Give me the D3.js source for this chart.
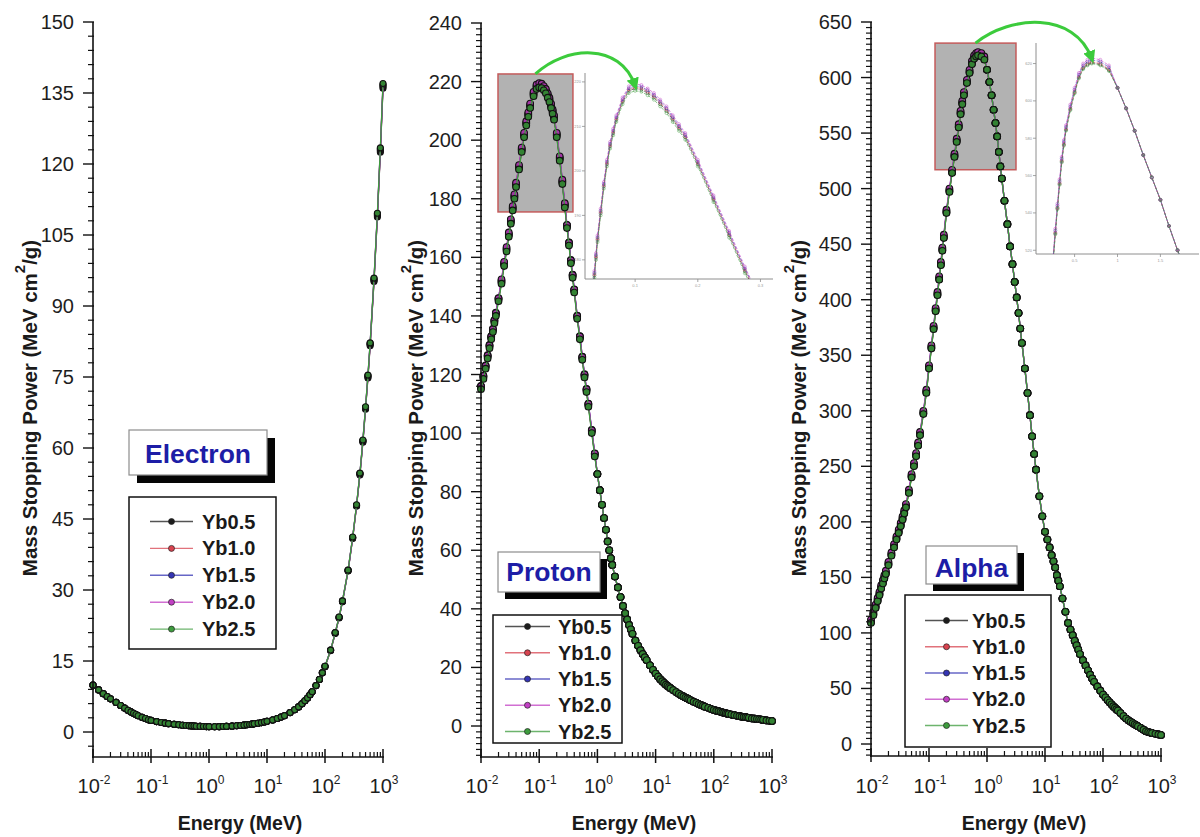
<!DOCTYPE html>
<html>
<head>
<meta charset="utf-8">
<script src="https://cdn.jsdelivr.net/npm/d3@7"></script>
<style>
  body { margin: 0; background: #fff; }
  svg { display: block; font-family: "Liberation Sans", Arial, sans-serif; }
</style>
</head>
<body>
<svg id="chart" width="1200" height="837"></svg>
<script>
// energy grid for the electron panel (MeV)
const electronEnergies = [
  0.01, 0.0125, 0.015, 0.0175, 0.02, 0.025, 0.03, 0.035, 0.04, 0.045, 0.05, 0.055, 0.06, 0.07, 0.08, 0.09,
  0.1, 0.125, 0.15, 0.175, 0.2, 0.25, 0.3, 0.35, 0.4, 0.45, 0.5, 0.55, 0.6, 0.7, 0.8, 0.9,
  1, 1.25, 1.5, 1.75, 2, 2.5, 3, 3.5, 4, 4.5, 5, 5.5, 6, 7, 8, 9,
  10, 12.5, 15, 17.5, 20, 25, 30, 35, 40, 45, 50, 55, 60, 70, 80, 90,
  100, 125, 150, 175, 200, 250, 300, 350, 400, 450, 500, 550, 600, 700, 800, 900, 1000
];

// energy grid for proton and alpha panels (MeV)
const ionEnergies = [
  0.01, 0.011, 0.012, 0.013, 0.014, 0.015, 0.016, 0.017, 0.018, 0.02, 0.0225, 0.025, 0.0275, 0.03, 0.0325, 0.035, 0.0375, 0.04, 0.045, 0.05, 0.055, 0.06, 0.065, 0.07, 0.08, 0.09,
  0.1, 0.11, 0.12, 0.13, 0.14, 0.15, 0.16, 0.17, 0.18, 0.2, 0.225, 0.25, 0.275, 0.3, 0.325, 0.35, 0.375, 0.4, 0.45, 0.5, 0.55, 0.6, 0.65, 0.7, 0.8, 0.9,
  1, 1.1, 1.2, 1.3, 1.4, 1.5, 1.6, 1.7, 1.8, 2, 2.25, 2.5, 2.75, 3, 3.25, 3.5, 3.75, 4, 4.5, 5, 5.5, 6, 6.5, 7, 8, 9,
  10, 11, 12, 13, 14, 15, 16, 17, 18, 20, 22.5, 25, 27.5, 30, 32.5, 35, 37.5, 40, 45, 50, 55, 60, 65, 70, 80, 90,
  100, 110, 120, 130, 140, 150, 160, 170, 180, 200, 225, 250, 275, 300, 325, 350, 375, 400, 450, 500, 550, 600, 650, 700, 800, 900,
  1000
];

const seriesNames = ['Yb0.5', 'Yb1.0', 'Yb1.5', 'Yb2.0', 'Yb2.5'];
const panelNames = ['Electron', 'Proton', 'Alpha'];
const xTickExps = [-2, -1, 0, 1, 2, 3];

const electronTicks = [0, 15, 30, 45, 60, 75, 90, 105, 120, 135, 150];
const protonTicks = [0, 20, 40, 60, 80, 100, 120, 140, 160, 180, 200, 220, 240];
const alphaTicks = [0, 50, 100, 150, 200, 250, 300, 350, 400, 450, 500, 550, 600, 650];

const protonInsetYTicks = [180, 190, 200, 210, 220];
const protonInsetXTicks = [0.1, 0.2, 0.3];
const alphaInsetYTicks = [520, 540, 560, 580, 600, 620];
const alphaInsetXTicks = [0.5, 1.0, 1.5];

// ---- Electron: 0.01-90 MeV identical for all five samples, 100-1000 MeV per sample
const electronLow = [
  9.9, 8.9, 8.1, 7.5, 7.0, 6.25, 5.6, 5.05, 4.6, 4.25, 3.95, 3.7, 3.45, 3.1, 2.85, 2.6,
  2.45, 2.2, 2.0, 1.87, 1.77, 1.62, 1.52, 1.44, 1.38, 1.33, 1.29, 1.26, 1.23, 1.19, 1.16, 1.14,
  1.13, 1.12, 1.13, 1.15, 1.18, 1.24, 1.31, 1.38, 1.45, 1.52, 1.59, 1.66, 1.73, 1.86, 1.99, 2.12,
  2.25, 2.55, 2.85, 3.15, 3.45, 4.1, 4.7, 5.3, 5.95, 6.6, 7.2, 7.85, 8.5, 9.8, 11.1, 12.5
];
const electronHighYb05 = [13.8, 17.2, 20.8, 24.1, 27.5, 34.0, 40.9, 47.7, 54.3, 61.2, 68.2, 74.8, 81.6, 95.2, 108.8, 122.5, 136.0];
const electronHighYb10 = [13.8, 17.2, 20.9, 24.2, 27.6, 34.1, 41.0, 47.8, 54.5, 61.4, 68.4, 75.0, 81.8, 95.4, 109.1, 122.8, 136.3];
const electronHighYb15 = [13.9, 17.3, 20.9, 24.2, 27.6, 34.1, 41.1, 47.9, 54.6, 61.5, 68.5, 75.2, 82.0, 95.6, 109.3, 123.0, 136.6];
const electronHighYb20 = [13.9, 17.3, 21.0, 24.3, 27.7, 34.2, 41.1, 47.9, 54.6, 61.6, 68.6, 75.3, 82.1, 95.8, 109.5, 123.2, 136.8];
const electronHighYb25 = [13.9, 17.3, 21.0, 24.3, 27.7, 34.2, 41.2, 48.0, 54.7, 61.7, 68.7, 75.4, 82.2, 95.9, 109.6, 123.4, 137.0];

// ---- Proton: 0.01-0.9 MeV per sample, 1-1000 MeV identical
const protonHeadYb05 = [
  115.5, 119, 122.5, 126, 129.5, 132.5, 135, 138, 140.5, 145.5, 151.5, 157.5, 162.5, 167.5, 172, 176.5, 180.5, 184.5, 190.5, 196.5, 201.5, 205.5, 208.5, 211.5, 215.5, 218,
  218.5, 218.3, 217.5, 216.5, 215, 213.5, 211.5, 209.5, 207.5, 201.5, 193.5, 185.5, 177.5, 170.5, 164.5, 158.5, 153.5, 148.5, 139.5, 132.5, 125.5, 119.5, 114.5, 109.5, 100.5, 92.5
];
const protonHeadYb10 = [
  115.8, 119.3, 122.8, 126.3, 129.8, 132.8, 135.3, 138.3, 140.8, 145.8, 151.8, 157.8, 162.8, 167.8, 172.3, 176.8, 180.8, 184.8, 190.8, 196.8, 201.8, 205.8, 208.8, 211.8, 215.8, 218.3,
  218.8, 218.6, 217.8, 216.8, 215.3, 213.8, 211.8, 209.8, 207.8, 201.8, 193.8, 185.8, 177.8, 170.8, 164.8, 158.8, 153.8, 148.8, 139.8, 132.8, 125.8, 119.8, 114.8, 109.8, 100.8, 92.8
];
const protonHeadYb15 = [
  116.1, 119.6, 123.1, 126.6, 130.1, 133.1, 135.6, 138.6, 141.1, 146.1, 152.1, 158.1, 163.1, 168.1, 172.6, 177.1, 181.1, 185.1, 191.1, 197.1, 202.1, 206.1, 209.1, 212.1, 216.1, 218.6,
  219.1, 218.9, 218.1, 217.1, 215.6, 214.1, 212.1, 210.1, 208.1, 202.1, 194.1, 186.1, 178.1, 171.1, 165.1, 159.1, 154.1, 149.1, 140.1, 133.1, 126.1, 120.1, 115.1, 110.1, 101.1, 93.1
];
const protonHeadYb20 = [
  116, 119.5, 123, 126.5, 130, 133, 135.5, 138.5, 141, 146, 152.5, 158.5, 163.5, 168.5, 173, 177.5, 181.5, 185.5, 191.5, 197.5, 202.5, 206.5, 209.5, 212.5, 216.5, 219,
  219.5, 219.3, 218.5, 217.5, 216, 214.5, 212.5, 210.5, 208.5, 202.5, 194.5, 186.5, 178.5, 171, 165, 159, 154, 149, 140, 133, 126, 120, 115, 110, 101, 93
];
const protonHeadYb25 = [
  115, 118.5, 122, 125.5, 129, 132, 134.5, 137.5, 140, 145, 151, 157, 162, 167, 171.5, 176, 180, 184, 190, 196, 201, 205, 208, 211, 215, 217.5,
  218, 217.8, 217, 216, 214.5, 213, 211, 209, 207, 201, 193, 185, 177, 170, 164, 158, 153, 148, 139, 132, 125, 119, 114, 109, 100, 92
];
const protonTail = [
  86, 80.5, 75.5, 71, 67, 63, 60, 57.3, 55, 51, 47.3, 44, 41, 38.5, 36.4, 34.5, 33, 31.5, 29.2, 27.4, 25.9, 24.6, 23.5, 22.5, 20.7, 19.2,
  17.9, 16.9, 16.0, 15.3, 14.7, 14.1, 13.7, 13.3, 12.9, 12.3, 11.6, 11.0, 10.5, 10.1, 9.7, 9.4, 9.1, 8.8, 8.3, 7.9, 7.5, 7.2, 6.9, 6.6, 6.2, 5.8,
  5.5, 5.25, 5.05, 4.85, 4.65, 4.5, 4.35, 4.2, 4.1, 3.9, 3.7, 3.5, 3.35, 3.2, 3.1, 3.0, 2.9, 2.8, 2.6, 2.5, 2.4, 2.3, 2.2, 2.1, 1.9, 1.8,
  1.7
];

// ---- Alpha: 0.01-0.9 MeV per sample, 1-1000 MeV identical
const alphaHeadYb05 = [
  109.5, 116.5, 123, 129, 134.5, 140.5, 145, 149.5, 153.5, 161.5, 170, 177.5, 184.5, 190.5, 196.5, 202.5, 208, 213.5, 226.5, 240.5, 250.5, 259.5, 269, 278.5, 297.5, 316.5,
  338.5, 356.5, 374, 390, 404.5, 418.5, 431.5, 444.5, 456, 478.5, 497.5, 514.5, 529, 542.5, 555.5, 567.5, 576.5, 584.5, 595.5, 604.5, 612.5, 617.5, 619.5, 620.5, 619.5, 616.5
];
const alphaHeadYb10 = [
  110, 117, 123.5, 129.5, 135, 141, 145.5, 150, 154, 162, 170.5, 178, 185, 191, 197, 203, 208.5, 214, 227, 241, 251, 260, 269.5, 279, 298, 317,
  339, 357, 374.5, 390.5, 405, 419, 432, 445, 456.5, 479, 498, 515, 529.5, 543, 556, 568, 577, 585, 596, 605, 613, 618, 620, 621, 620, 617
];
const alphaHeadYb15 = [
  111, 118, 124.5, 130.5, 136, 142, 146.5, 151, 155, 163, 171.5, 179, 186, 192, 198, 204, 209.5, 215, 228, 242, 252, 261, 270.5, 280, 299, 318,
  340, 358, 375.5, 391.5, 406, 420, 433, 446, 457.5, 480, 499, 516, 530.5, 544, 557, 569, 578, 586, 597, 606, 614, 619, 621, 622, 621, 618
];
const alphaHeadYb20 = [
  112, 119, 125.5, 131.5, 137, 143, 147.5, 152, 156, 164, 172.5, 180, 187, 193, 199, 205, 210.5, 216, 229, 243, 253, 262, 271.5, 281, 300, 319,
  341, 359, 376.5, 392.5, 407, 421, 434, 447, 458.5, 481, 500, 517, 531.5, 545, 558, 570, 579, 587, 598, 607, 615, 620, 622, 623, 622, 619
];
const alphaHeadYb25 = [
  109, 116, 122.5, 128.5, 134, 140, 144.5, 149, 153, 161, 169.5, 177, 184, 190, 196, 202, 207.5, 213, 226, 240, 250, 259, 268.5, 278, 297, 316,
  338, 356, 373.5, 389.5, 404, 418, 431, 444, 455.5, 478, 497, 514, 528.5, 542, 555, 567, 576, 584, 595, 604, 612, 617, 619, 620, 619, 616
];
const alphaTail = [
  607, 596, 584, 571, 559, 547, 533, 520, 509, 489, 468, 448, 432, 416, 402, 388, 374, 361, 338, 316, 296, 277, 261, 247, 223, 205,
  191, 184, 177, 170, 164.5, 159, 152, 147, 142, 131, 119, 109, 103, 98, 93, 89, 85, 81, 75.5, 70.7, 66.3, 62.4, 59, 56, 51.8, 48,
  44.5, 42, 39.6, 37.6, 35.8, 34.1, 32.7, 31.4, 30.2, 27.8, 25.2, 22.9, 21.3, 20, 18.9, 17.8, 16.9, 16, 14.3, 12.9, 11.5, 10.7, 10.3, 9.9, 9.25, 8.6,
  8.1
];

const seriesColors = ['#1c1c1c', '#d8434f', '#3434b4', '#c23fc4', '#3d9c3d'];
const arrowGreen = '#3ccb3c';

const svg = d3.select('#chart');

// arrow head used by the zoom arrows
const defs = svg.append('defs');
defs.append('marker')
  .attr('id', 'arrowhead')
  .attr('viewBox', '0 0 10 10')
  .attr('refX', 6).attr('refY', 5)
  .attr('markerWidth', 4.2).attr('markerHeight', 4.2)
  .attr('orient', 'auto')
  .append('path').attr('d', 'M0,0 L10,5 L0,10 Z').attr('fill', arrowGreen);

const panels = [
  {
    name: panelNames[0],
    energies: electronEnergies,
    series: [electronHighYb05, electronHighYb10, electronHighYb15, electronHighYb20, electronHighYb25]
      .map(high => electronLow.concat(high)),
    yTicks: electronTicks, yMinor: 3, yDomain: [-5.28, 150],
    xRange: [93, 383], yRange: [757, 22], r: 3,
    titleX: 37, energyX: 240,
    label: { x: 129, y: 430, w: 138, h: 45, sh: 8, ty: 463 },
    legend: { x: 129, y: 497, w: 147, h: 152, y0: 521.5, dy: 26.9, lx0: 150, lx1: 193, tx: 202 },
    inset: null
  },
  {
    name: panelNames[1],
    energies: ionEnergies,
    series: [protonHeadYb05, protonHeadYb10, protonHeadYb15, protonHeadYb20, protonHeadYb25]
      .map(head => head.concat(protonTail)),
    yTicks: protonTicks, yMinor: 2, yDomain: [-10.58, 240],
    xRange: [481, 772], yRange: [757, 23], r: 3.3,
    titleX: 423, energyX: 634,
    label: { x: 498, y: 552, w: 102, h: 40, sh: 7, ty: 581 },
    legend: { x: 493, y: 615, w: 129, h: 128, y0: 626.5, dy: 26.25, lx0: 505, lx1: 550, tx: 558 },
    inset: {
      box: [0.0196, 0.38, 175.5, 222.6],
      xDomain: [0.02, 0.32], yDomain: [175.7, 222],
      left: 585, right: 773, top: 73, bottom: 279,
      xTicks: protonInsetXTicks, yTicks: protonInsetYTicks
    }
  },
  {
    name: panelNames[2],
    energies: ionEnergies,
    series: [alphaHeadYb05, alphaHeadYb10, alphaHeadYb15, alphaHeadYb20, alphaHeadYb25]
      .map(head => head.concat(alphaTail)),
    yTicks: alphaTicks, yMinor: 5, yDomain: [-10.8, 650],
    xRange: [871, 1161], yRange: [756, 22], r: 3.3,
    titleX: 806, energyX: 1024,
    label: { x: 926, y: 546, w: 91, h: 38, sh: 7, ty: 577 },
    legend: { x: 905, y: 595, w: 146, h: 152, y0: 620.5, dy: 26.25, lx0: 925, lx1: 968, tx: 972 },
    inset: {
      box: [0.127, 3.16, 517, 631],
      xDomain: [0.05, 1.95], yDomain: [518, 631],
      left: 1036, right: 1199, top: 43, bottom: 254,
      xTicks: alphaInsetXTicks, yTicks: alphaInsetYTicks
    }
  }
];

function drawPanel(p) {
  const x = d3.scaleLog().domain([0.01, 1000]).range(p.xRange);
  const y = d3.scaleLinear().domain(p.yDomain).range(p.yRange);
  const g = svg.append('g');
  const left = p.xRange[0];
  const bottom = p.yRange[0];
  const E = p.energies;

  // grey window around the peak (drawn behind the curves)
  if (p.inset) {
    const b = p.inset.box;
    g.append('rect')
      .attr('x', x(b[0])).attr('y', y(b[3]))
      .attr('width', x(b[1]) - x(b[0])).attr('height', y(b[2]) - y(b[3]))
      .attr('fill', '#b2b2b2').attr('stroke', '#c45b5b').attr('stroke-width', 1.5);
  }

  // curves + symbols, Yb0.5 first so Yb2.5 ends up on top
  const line = d3.line().x((d, i) => x(E[i])).y(d => y(d));
  p.series.forEach((vals, k) => {
    g.append('path').datum(vals)
      .attr('d', line).attr('fill', 'none')
      .attr('stroke', seriesColors[k]).attr('stroke-width', 1.3);
    g.append('g').selectAll('circle').data(vals).enter().append('circle')
      .attr('cx', (d, i) => x(E[i]))
      .attr('cy', d => y(d))
      .attr('r', p.r)
      .attr('fill', d3.color(seriesColors[k]).darker(0.5))
      .attr('stroke', '#121212').attr('stroke-width', 1.1);
  });

  // y axis
  const yTop = y(p.yTicks[p.yTicks.length - 1]);
  g.append('line')
    .attr('x1', left).attr('x2', left).attr('y1', yTop).attr('y2', bottom + 1)
    .attr('stroke', '#111').attr('stroke-width', 1.6);
  const yMinors = d3.range(Math.ceil(p.yDomain[0] / p.yMinor) * p.yMinor, p.yDomain[1] + 1e-6, p.yMinor)
    .filter(v => !p.yTicks.includes(v));
  g.selectAll(null).data(yMinors).enter().append('line')
    .attr('x1', left - 5).attr('x2', left + 1)
    .attr('y1', d => y(d)).attr('y2', d => y(d))
    .attr('stroke', '#111').attr('stroke-width', 1.2);
  g.selectAll(null).data(p.yTicks).enter().append('line')
    .attr('x1', left - 10).attr('x2', left + 1)
    .attr('y1', d => y(d)).attr('y2', d => y(d))
    .attr('stroke', '#111').attr('stroke-width', 1.4);
  g.selectAll(null).data(p.yTicks).enter().append('text')
    .attr('x', left - 19).attr('y', d => y(d)).attr('dy', '0.35em')
    .attr('text-anchor', 'end').attr('font-size', 20).attr('fill', '#1e1e1e')
    .text(d => d);

  // x axis (log)
  g.append('line')
    .attr('x1', left - 1).attr('x2', p.xRange[1] + 1).attr('y1', bottom).attr('y2', bottom)
    .attr('stroke', '#111').attr('stroke-width', 1.6);
  const isDecade = t => Math.abs(Math.log10(t) - Math.round(Math.log10(t))) < 1e-6;
  g.selectAll(null).data(x.ticks().filter(t => !isDecade(t))).enter().append('line')
    .attr('x1', d => x(d)).attr('x2', d => x(d))
    .attr('y1', bottom).attr('y2', bottom - 5)
    .attr('stroke', '#111').attr('stroke-width', 1.2);
  g.selectAll(null).data(xTickExps).enter().append('line')
    .attr('x1', d => x(Math.pow(10, d))).attr('x2', d => x(Math.pow(10, d)))
    .attr('y1', bottom + 6).attr('y2', bottom - 8)
    .attr('stroke', '#111').attr('stroke-width', 1.5);
  const xl = g.selectAll(null).data(xTickExps).enter().append('text')
    .attr('x', d => x(Math.pow(10, d)) + 1).attr('y', 793)
    .attr('text-anchor', 'middle').attr('font-size', 20).attr('fill', '#1e1e1e');
  xl.append('tspan').text('10');
  xl.append('tspan').attr('dy', -9).attr('font-size', 12).text(d => d);

  // axis titles
  const yt = g.append('text')
    .attr('transform', `translate(${p.titleX},408) rotate(-90)`)
    .attr('text-anchor', 'middle').attr('font-size', 20.5).attr('font-weight', 'bold').attr('fill', '#1a1a1a');
  yt.append('tspan').text('Mass Stopping Power (MeV cm');
  yt.append('tspan').attr('dy', -12).attr('font-size', 15).text('2');
  yt.append('tspan').attr('dy', 12).text('/g)');

  g.append('text')
    .attr('x', p.energyX).attr('y', 830)
    .attr('text-anchor', 'middle').attr('font-size', 19.5).attr('font-weight', 'bold').attr('fill', '#1a1a1a')
    .text('Energy (MeV)');

  // particle label with drop shadow
  const L = p.label;
  g.append('rect').attr('x', L.x + L.sh).attr('y', L.y + L.sh).attr('width', L.w).attr('height', L.h).attr('fill', '#050505');
  g.append('rect').attr('x', L.x).attr('y', L.y).attr('width', L.w).attr('height', L.h)
    .attr('fill', '#fff').attr('stroke', '#8d8d8d').attr('stroke-width', 1.2);
  g.append('text')
    .attr('x', L.x + L.w / 2).attr('y', L.ty)
    .attr('text-anchor', 'middle').attr('font-size', 26.5).attr('font-weight', 'bold').attr('fill', '#1d1da6')
    .text(p.name);

  // legend
  const lg = p.legend;
  g.append('rect').attr('x', lg.x).attr('y', lg.y).attr('width', lg.w).attr('height', lg.h)
    .attr('fill', '#fff').attr('stroke', '#111').attr('stroke-width', 1.5);
  seriesNames.forEach((name, k) => {
    const cy = lg.y0 + k * lg.dy;
    g.append('line').attr('x1', lg.lx0).attr('x2', lg.lx1).attr('y1', cy).attr('y2', cy)
      .attr('stroke', seriesColors[k]).attr('stroke-width', 1.4).attr('opacity', 0.75);
    g.append('circle').attr('cx', (lg.lx0 + lg.lx1) / 2).attr('cy', cy).attr('r', 3)
      .attr('fill', seriesColors[k]).attr('stroke', '#222').attr('stroke-width', 0.7);
    g.append('text').attr('x', lg.tx).attr('y', cy + 7)
      .attr('font-size', 20).attr('font-weight', 'bold').attr('fill', '#1a1a1a')
      .text(name);
  });

  if (p.inset) drawInset(p, g, x, y);
}

// magnified view of the peak, with the arrow from the grey window
function drawInset(p, g, x, y) {
  const s = p.inset;
  const E = p.energies;
  const ix = d3.scaleLinear().domain(s.xDomain).range([s.left, s.right]);
  const iy = d3.scaleLinear().domain(s.yDomain).range([s.bottom, s.top]);
  const clipId = 'clip-' + p.name;
  defs.append('clipPath').attr('id', clipId)
    .append('rect').attr('x', s.left).attr('y', s.top).attr('width', s.right - s.left).attr('height', s.bottom - s.top);

  const axisColor = '#8e8e8e';
  g.append('line').attr('x1', s.left).attr('x2', s.left).attr('y1', s.top).attr('y2', s.bottom)
    .attr('stroke', axisColor).attr('stroke-width', 1);
  g.append('line').attr('x1', s.left).attr('x2', s.right).attr('y1', s.bottom).attr('y2', s.bottom)
    .attr('stroke', axisColor).attr('stroke-width', 1);
  g.selectAll(null).data(s.yTicks).enter().append('line')
    .attr('x1', s.left - 3).attr('x2', s.left).attr('y1', d => iy(d)).attr('y2', d => iy(d))
    .attr('stroke', axisColor).attr('stroke-width', 0.8);
  g.selectAll(null).data(s.yTicks).enter().append('text')
    .attr('x', s.left - 4).attr('y', d => iy(d)).attr('dy', '0.35em')
    .attr('text-anchor', 'end').attr('font-size', 4).attr('fill', '#999')
    .text(d => d);
  g.selectAll(null).data(s.xTicks).enter().append('line')
    .attr('x1', d => ix(d)).attr('x2', d => ix(d)).attr('y1', s.bottom).attr('y2', s.bottom + 3)
    .attr('stroke', axisColor).attr('stroke-width', 0.8);
  g.selectAll(null).data(s.xTicks).enter().append('text')
    .attr('x', d => ix(d)).attr('y', s.bottom + 8)
    .attr('text-anchor', 'middle').attr('font-size', 4).attr('fill', '#999')
    .text(d => d);

  const cg = g.append('g').attr('clip-path', `url(#${clipId})`);
  const iline = d3.line().x((d, i) => ix(E[i])).y(d => iy(d));
  p.series.forEach((vals, k) => {
    cg.append('path').datum(vals).attr('d', iline)
      .attr('fill', 'none').attr('stroke', seriesColors[k]).attr('stroke-width', 1)
      .attr('stroke-dasharray', '3,1.5').attr('opacity', 0.6);
    cg.append('g').selectAll('circle').data(vals).enter().append('circle')
      .attr('cx', (d, i) => ix(E[i])).attr('cy', d => iy(d)).attr('r', 1.5)
      .attr('fill', 'none').attr('stroke', seriesColors[k]).attr('stroke-width', 0.7).attr('opacity', 0.65);
  });

  // arrow: top centre of grey window -> peak of the magnified curve
  const last = p.series[p.series.length - 1];
  const iMax = d3.maxIndex(last);
  const b = s.box;
  const sx = x(Math.sqrt(b[0] * b[1])), sy = y(b[3]);
  const tx = ix(E[iMax]), ty = iy(last[iMax]) - 5;
  const dx = tx - sx, top = Math.min(sy, ty);
  g.append('path')
    .attr('d', `M${sx},${sy} C${sx + 0.3 * dx},${top - 28} ${sx + 0.85 * dx},${top - 32} ${tx},${ty}`)
    .attr('fill', 'none').attr('stroke', arrowGreen).attr('stroke-width', 3)
    .attr('marker-end', 'url(#arrowhead)');
}

panels.forEach(drawPanel);
</script>
</body>
</html>
